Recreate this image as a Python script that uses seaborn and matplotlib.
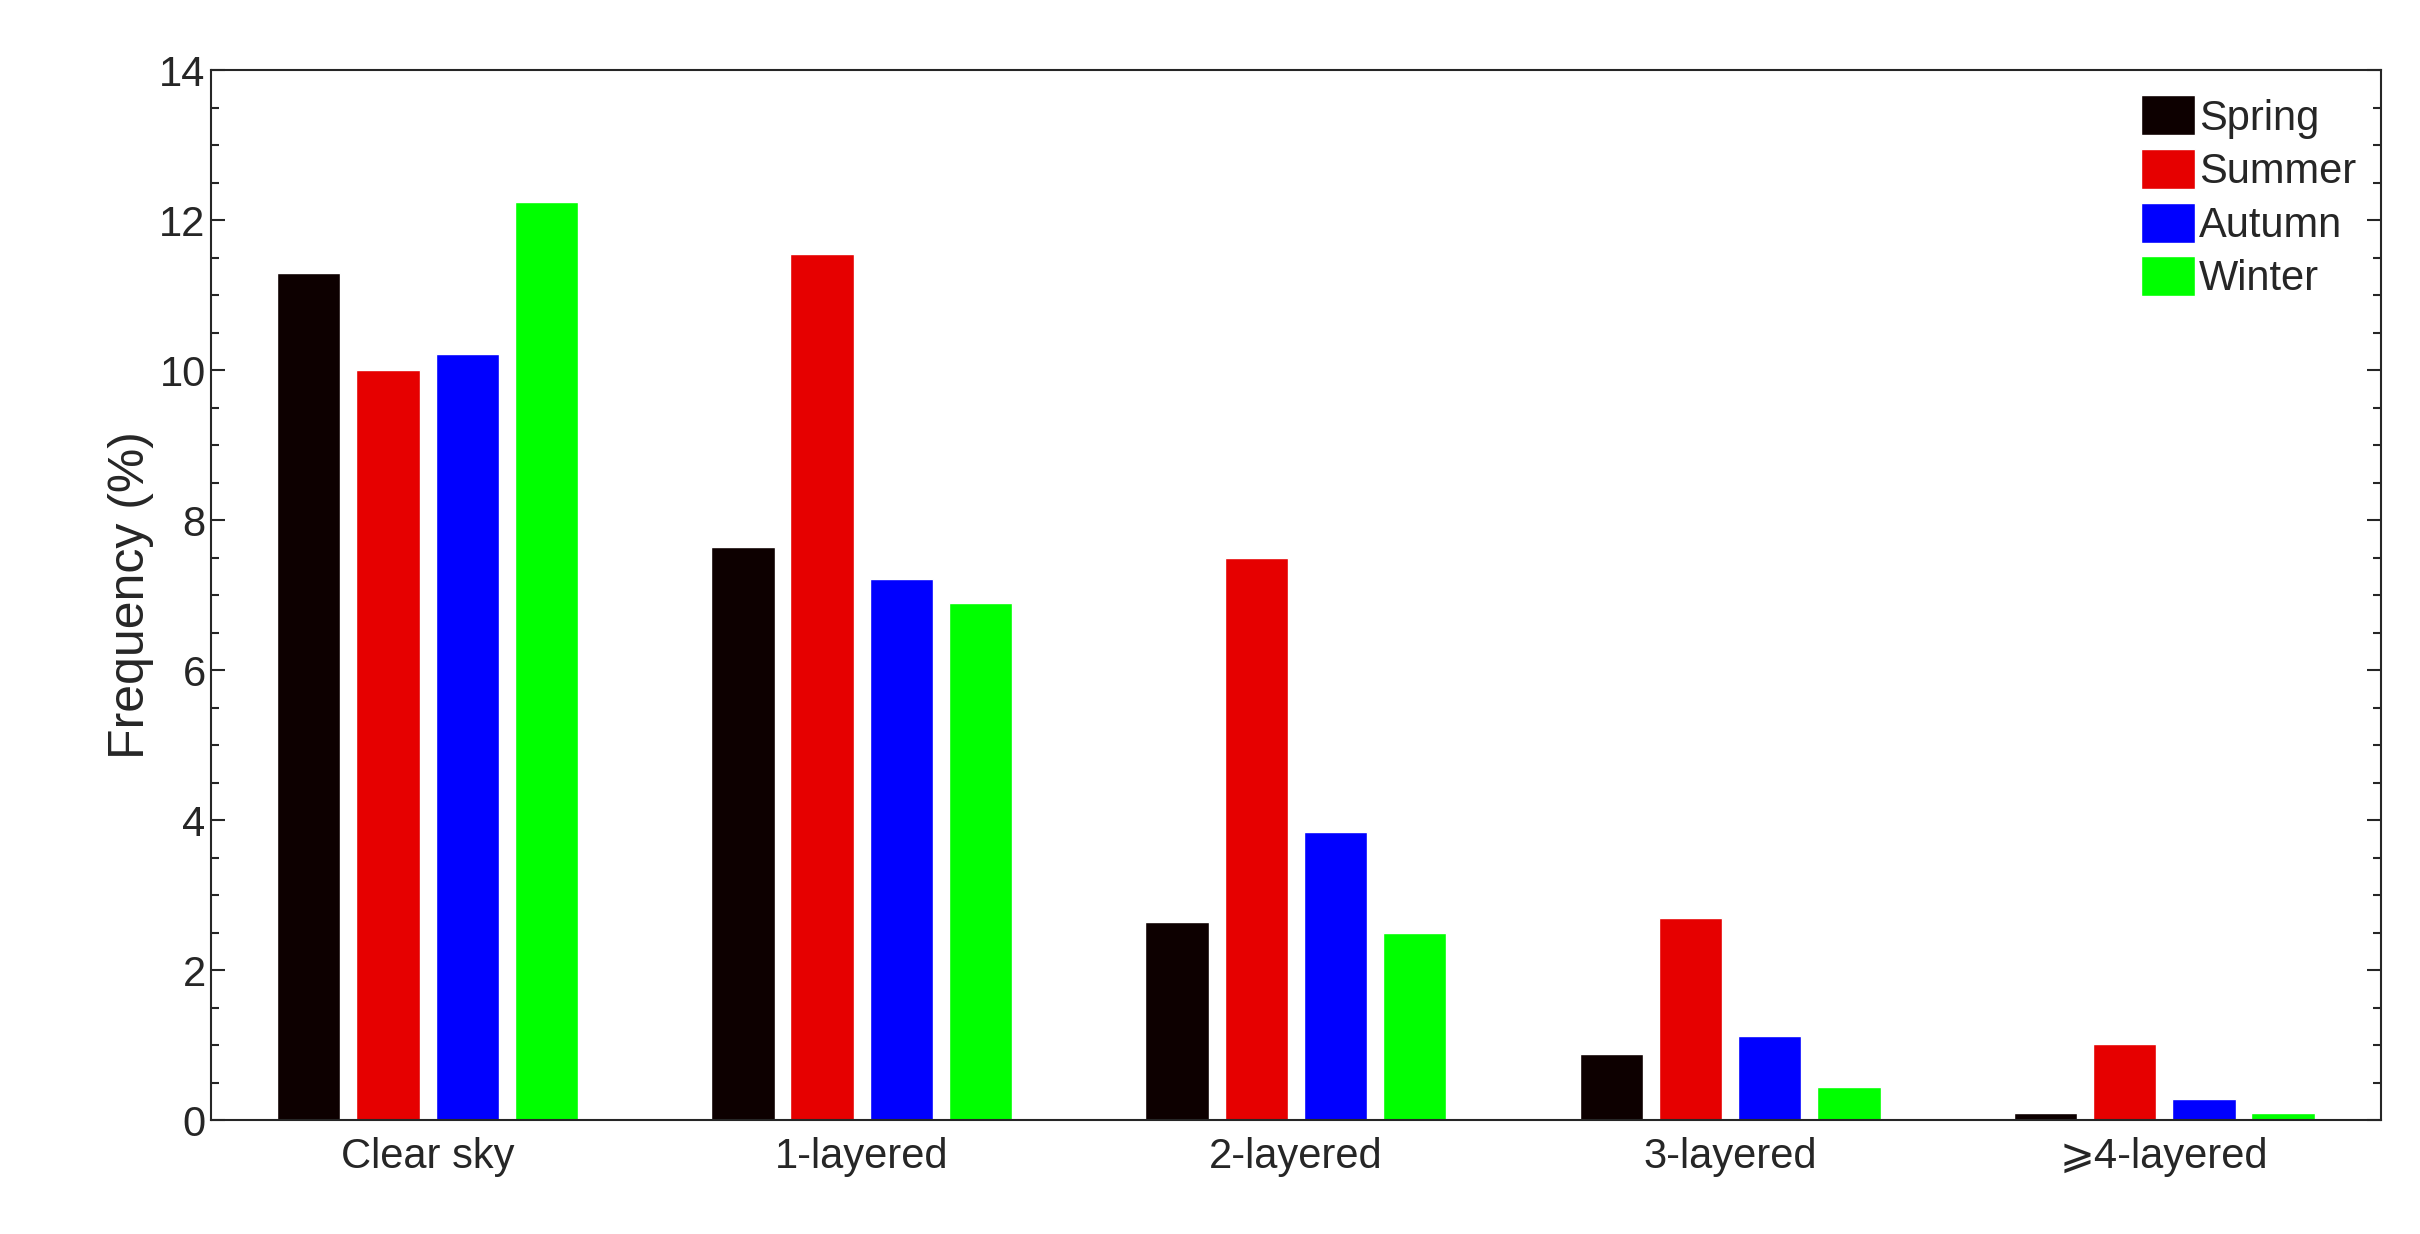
import pandas as pd
import matplotlib.pyplot as plt
import seaborn as sns
from matplotlib.ticker import MultipleLocator

# Data
categories = ["Clear sky", "1-layered", "2-layered", "3-layered", "⩾4-layered"]
seasons = ["Spring", "Summer", "Autumn", "Winter"]
spring = [11.3, 7.65, 2.65, 0.88, 0.1]
summer = [10.0, 11.55, 7.5, 2.7, 1.02]
autumn = [10.22, 7.22, 3.85, 1.12, 0.28]
winter = [12.25, 6.9, 2.5, 0.45, 0.1]
colors = ["#0d0000", "#e60000", "#0000ff", "#00ff00"]

rows = []
for season, vals in zip(seasons, [spring, summer, autumn, winter]):
    for cat, v in zip(categories, vals):
        rows.append({"category": cat, "season": season, "freq": v})
df = pd.DataFrame(rows)

sns.set_style("ticks")
plt.rcParams['font.family'] = ['Arial', 'Liberation Sans', 'DejaVu Sans']

fig = plt.figure(figsize=(24.2, 12.34), dpi=100)
ax = fig.add_axes([0.087, 0.092, 0.897, 0.851])

sns.barplot(data=df, x="category", y="freq", hue="season", hue_order=seasons,
            palette=colors, width=0.73, gap=0.2, saturation=1, ax=ax)

ax.set_ylim(0, 14)
ax.set_xlim(-0.5, 4.5)
ax.yaxis.set_major_locator(MultipleLocator(2))
ax.yaxis.set_minor_locator(MultipleLocator(0.5))
ax.tick_params(axis="both", which="both", direction="in", top=True, right=True,
               labelsize=30, width=1.5)
ax.tick_params(axis="y", which="major", length=10)
ax.tick_params(axis="y", which="minor", length=6)
ax.tick_params(axis="x", which="major", length=0, pad=12)
for s in ax.spines.values():
    s.set_linewidth(1.5)
ax.set_xlabel("")
ax.set_ylabel("Frequency (%)", fontsize=36)

leg = ax.legend(loc="upper right", fontsize=30, frameon=False,
                handlelength=1.3, handleheight=1.1, handletextpad=0.1,
                labelspacing=0.25, borderaxespad=0.2)

fig.savefig("out.png", dpi=100)
